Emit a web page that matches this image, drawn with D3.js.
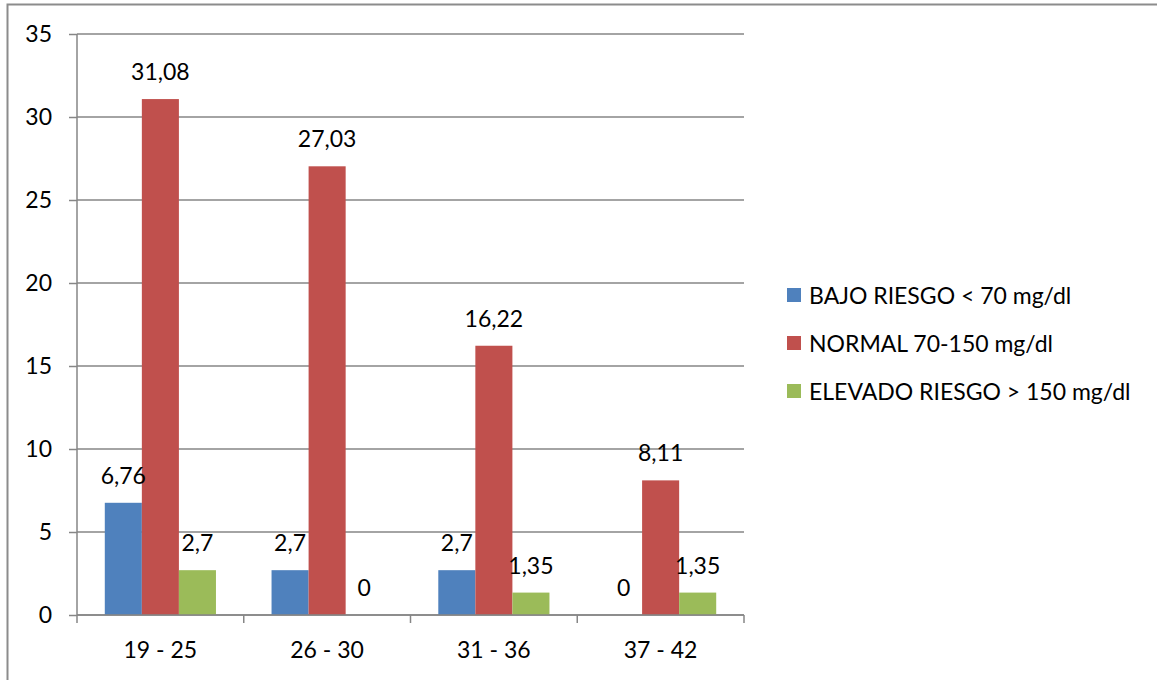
<!DOCTYPE html>
<html>
<head>
<meta charset="utf-8">
<script src="https://cdn.jsdelivr.net/npm/d3@7"></script>
<style>
  html, body { margin: 0; padding: 0; background: #ffffff; }
  svg { display: block; }
  text { font-family: Lato, "Open Sans", sans-serif; fill: #000; }
</style>
</head>
<body>
<svg id="chart" width="1157" height="680"></svg>
<script>
// Age groups on the x axis
const categories = ["19 - 25", "26 - 30", "31 - 36", "37 - 42"];

// Series names (legend) and colours
const seriesNames = ["BAJO RIESGO < 70 mg/dl", "NORMAL 70-150 mg/dl", "ELEVADO RIESGO > 150 mg/dl"];
const seriesColors = ["#4F81BD", "#C0504D", "#9BBB59"];

// Percentages per age group, one array per series
const bajoRiesgo = [6.76, 2.7, 2.7, 0];
const normal = [31.08, 27.03, 16.22, 8.11];
const elevadoRiesgo = [2.7, 0, 1.35, 1.35];

// Y axis ticks
const yTicks = [0, 5, 10, 15, 20, 25, 30, 35];

const seriesValues = [bajoRiesgo, normal, elevadoRiesgo];
const FONT = 23;

const svg = d3.select("#chart");
const plot = { left: 77, right: 744, top: 34, bottom: 615 };

// Outer chart frame (left and top edges visible)
svg.append("rect")
  .attr("x", 7.5).attr("y", 4.5)
  .attr("width", 1180).attr("height", 700)
  .attr("fill", "none")
  .attr("stroke", "#8c8c8c")
  .attr("stroke-width", 2);

const x = d3.scaleBand().domain(categories).range([plot.left, plot.right]).paddingInner(0).paddingOuter(0);
const inner = d3.scaleBand().domain(d3.range(seriesNames.length))
  .range([0, x.bandwidth()]).paddingInner(0).paddingOuter(0.75);
const y = d3.scaleLinear().domain([0, 35]).range([plot.bottom, plot.top]);

// Horizontal gridlines with left tick stubs
const yAxis = d3.axisLeft(y).tickValues(yTicks).tickSize(8).tickPadding(17).tickFormat(d3.format("d"));
const gy = svg.append("g").attr("transform", `translate(${plot.left},0)`).call(yAxis);
gy.select(".domain").remove();
gy.selectAll(".tick line").attr("stroke", "#868686").attr("stroke-width", 1.5);
gy.selectAll(".tick text").attr("font-size", FONT).attr("font-family", "Lato, 'Open Sans', sans-serif").attr("fill", "#000");

svg.append("g").selectAll("line").data(yTicks).join("line")
  .attr("x1", plot.left).attr("x2", plot.right)
  .attr("y1", d => y(d)).attr("y2", d => y(d))
  .attr("stroke", "#868686").attr("stroke-width", 1.5);

// Vertical axis line
svg.append("line")
  .attr("x1", plot.left).attr("x2", plot.left)
  .attr("y1", plot.top).attr("y2", plot.bottom)
  .attr("stroke", "#868686").attr("stroke-width", 1.5);

// Flattened bar records
const bars = [];
categories.forEach((cat, ci) => {
  seriesValues.forEach((vals, si) => bars.push({ cat, si, v: vals[ci] }));
});

// Bars
svg.append("g").selectAll("rect").data(bars).join("rect")
  .attr("x", d => x(d.cat) + inner(d.si))
  .attr("y", d => y(d.v))
  .attr("width", inner.bandwidth())
  .attr("height", d => y(0) - y(d.v))
  .attr("fill", d => seriesColors[d.si]);

// Value labels drawn above all bars
svg.append("g").selectAll("text").data(bars).join("text")
  .attr("x", d => x(d.cat) + inner(d.si) + inner.bandwidth() / 2)
  .attr("y", d => y(d.v) - 19)
  .attr("text-anchor", "middle")
  .attr("font-size", FONT)
  .text(d => String(d.v).replace(".", ","));

// X axis with category ticks at band boundaries
const bounds = categories.map(c => x(c)).concat([plot.right]);
svg.append("line")
  .attr("x1", plot.left).attr("x2", plot.right)
  .attr("y1", y(0)).attr("y2", y(0))
  .attr("stroke", "#868686").attr("stroke-width", 1.5);
svg.append("g").selectAll("line").data(bounds).join("line")
  .attr("x1", d => d).attr("x2", d => d)
  .attr("y1", y(0)).attr("y2", y(0) + 8)
  .attr("stroke", "#868686").attr("stroke-width", 1.5);
svg.append("g").selectAll("text").data(categories).join("text")
  .attr("x", d => x(d) + x.bandwidth() / 2)
  .attr("y", 658)
  .attr("text-anchor", "middle")
  .attr("font-size", FONT)
  .text(d => d);

// Legend
const legend = svg.append("g").selectAll("g").data(seriesNames).join("g")
  .attr("transform", (d, i) => `translate(787,${295 + i * 48})`);
legend.append("rect")
  .attr("x", 0).attr("y", -7).attr("width", 14).attr("height", 14)
  .attr("fill", (d, i) => seriesColors[i]);
legend.append("text")
  .attr("x", 22).attr("y", 8.5)
  .attr("font-size", FONT)
  .text(d => d);
</script>
</body>
</html>
